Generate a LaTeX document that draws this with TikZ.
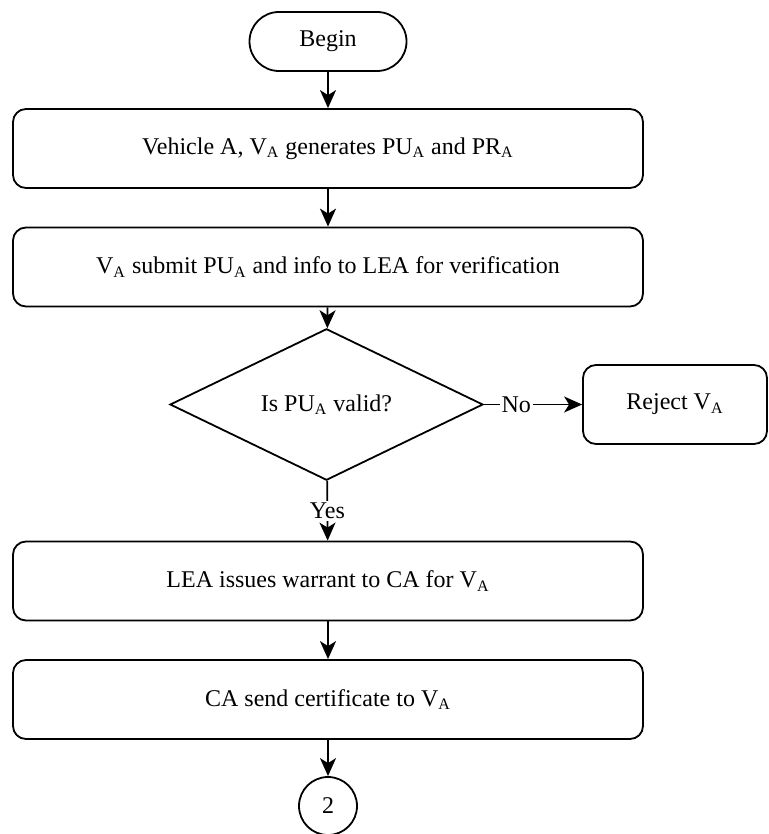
\documentclass[tikz,border=0pt]{standalone}
\usepackage{fontspec}
\setmainfont{Liberation Serif}
\usepackage{tikz}
\usetikzlibrary{arrows.meta, positioning, shapes.geometric}

\begin{document}
\begin{tikzpicture}[x=0.5pt, y=-0.5pt,
        every node/.style={font=\fontsize{12}{14.4}\selectfont},
        line/.style={draw=black, line width=0.9pt},
        flow/.style={line, -{Stealth[length=9pt, width=8pt, inset=2.5pt]}},
        startbox/.style={line, rectangle, rounded corners=14.75pt, minimum width=78.5pt, minimum height=29.5pt, inner sep=0pt},
        stepbox/.style={line, rectangle, rounded corners=6.5pt, minimum width=315pt, minimum height=39.5pt, inner sep=0pt},
        rejectbox/.style={line, rectangle, rounded corners=6.5pt, minimum width=92pt, minimum height=39.5pt, inner sep=0pt},
        checkbox/.style={line, diamond, minimum width=156.5pt, minimum height=58.5pt, inner sep=0pt},
        linkcircle/.style={line, circle, minimum size=29pt, inner sep=0pt},
        tag/.style={fill=white, inner sep=1pt}]
            \useasboundingbox (0,0) rectangle (769,834);

            \node[startbox] (begin) at (328,41.5) {Begin};
            \node[stepbox] (gen) at (328,148.5) {Vehicle A, V\textsubscript{A} generates PU\textsubscript{A} and PR\textsubscript{A}};
            \node[stepbox] (submit) at (328,267) {V\textsubscript{A} submit PU\textsubscript{A} and info to LEA for verification};
            \node[checkbox] (valid) at (326.5,404.5) {Is PU\textsubscript{A} valid?};
            \node[rejectbox] (reject) at (675,404.5) {Reject V\textsubscript{A}};
            \node[stepbox] (warrant) at (328,581) {LEA issues warrant to CA for V\textsubscript{A}};
            \node[stepbox] (cert) at (328,699.5) {CA send certificate to V\textsubscript{A}};
            \node[linkcircle] (next) at (328,806) {2};

            \draw[flow] (begin) -- (gen);
            \draw[flow] (gen) -- (submit);
            \draw[flow] (submit) -- (valid);
            \draw[flow] (valid) -- node[tag, pos=0.33] {No} (reject);
            \draw[flow] (valid) -- node[tag] {Yes} (warrant);
            \draw[flow] (warrant) -- (cert);
            \draw[flow] (cert) -- (next);
        \end{tikzpicture}
\end{document}
